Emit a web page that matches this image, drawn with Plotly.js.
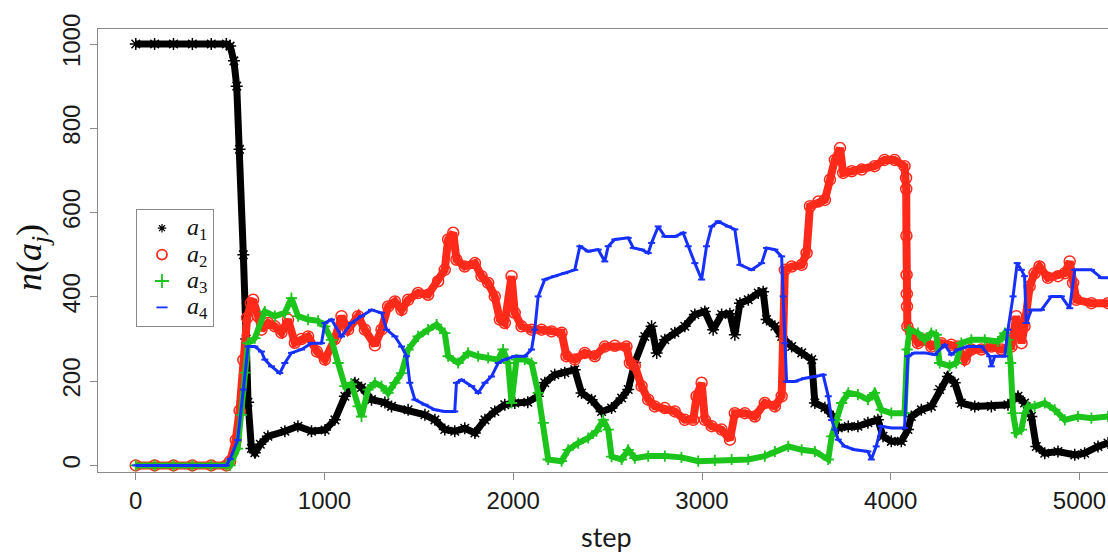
<!DOCTYPE html>
<html>
<head>
<meta charset="utf-8">
<script src="https://cdn.plot.ly/plotly-3.0.1.min.js"></script>
<style>html,body{margin:0;padding:0;background:#fff;}#chart{width:1108px;height:554px;}</style>
</head>
<body>
<div id="chart"></div>
<script>
// ---- data ----
const seriesNames = ['a1', 'a2', 'a3', 'a4'];
const legendLabels = ['<i>a</i><sub>1</sub>', '<i>a</i><sub>2</sub>', '<i>a</i><sub>3</sub>', '<i>a</i><sub>4</sub>'];
const xTicks = [0, 1000, 2000, 3000, 4000, 5000];
const yTicks = [0, 200, 400, 600, 800, 1000];

const stepA1 = [0,100,200,300,400,480,500,520,535,550,570,585,595,613,631,660,700,790,859,931,1003,1055,1108,1161,1196,1249,1320,1355,1443,1532,1585,1637,1690,1743,1797,1850,1902,1955,2008,2077,2130,2167,2220,2273,2326,2362,2415,2468,2521,2574,2609,2644,2697,2733,2760,2803,2856,2909,2962,3015,3059,3104,3148,3174,3201,3245,3298,3324,3342,3386,3422,3475,3528,3581,3598,3651,3695,3722,3775,3826,3879,3932,3959,4003,4056,4091,4109,4162,4215,4259,4303,4339,4374,4445,4533,4621,4674,4709,4745,4771,4816,4886,4975,5027,5098,5151];
const nA1 = [1000,1000,1000,1000,1000,1000,995,960,900,750,500,300,150,40,30,50,69,81,93,81,84,108,164,196,185,156,149,140,132,120,108,85,81,88,77,108,128,144,148,150,164,196,215,220,227,172,156,128,136,160,180,244,306,330,267,298,315,330,358,365,322,358,360,310,385,393,409,412,346,330,306,282,267,251,148,137,116,89,92,93,101,108,69,57,57,85,116,132,140,180,211,196,148,140,140,144,164,148,116,45,29,33,25,29,45,53];

const stepA2 = [0,100,200,300,400,480,500,530,550,570,590,610,622,648,666,701,737,772,807,843,878,913,960,1002,1055,1090,1125,1178,1214,1267,1302,1337,1373,1408,1443,1496,1549,1602,1637,1655,1682,1699,1743,1797,1832,1867,1902,1929,1955,1991,2008,2044,2097,2150,2203,2256,2282,2326,2379,2432,2485,2538,2600,2618,2644,2680,2715,2750,2803,2856,2909,2954,2971,2998,3015,3051,3104,3148,3174,3227,3280,3333,3386,3422,3439,3475,3528,3554,3572,3616,3651,3678,3704,3731,3748,3793,3846,3914,3967,4020,4073,4081,4082,4083,4084,4085,4086,4088,4109,4144,4180,4215,4268,4321,4356,4392,4427,4480,4533,4586,4639,4665,4693,4709,4736,4762,4788,4833,4886,4922,4948,4966,4983,5063,5151];
const nA2 = [0,0,0,0,0,0,10,60,130,250,350,385,393,354,322,338,330,315,346,291,300,306,270,251,300,354,322,354,322,285,322,377,389,369,393,409,405,437,464,536,552,488,472,480,449,433,401,346,338,449,362,330,322,322,318,315,259,251,267,259,282,284,282,243,236,188,156,140,136,128,108,108,164,196,108,93,85,61,124,124,116,148,140,164,464,472,476,504,615,626,630,678,725,753,694,698,702,710,725,725,710,682,656,545,452,407,377,330,314,290,298,282,290,286,282,251,275,275,282,275,282,354,290,330,425,456,472,445,449,456,484,433,393,385,385];

const stepA3 = [0,100,200,300,400,480,500,540,560,580,595,631,684,737,790,825,860,913,966,1002,1037,1072,1108,1143,1178,1196,1231,1267,1302,1337,1373,1408,1443,1496,1549,1594,1637,1655,1708,1761,1814,1867,1920,1946,1973,1991,2017,2061,2097,2132,2159,2185,2256,2291,2344,2397,2441,2477,2503,2521,2574,2609,2644,2715,2803,2891,2980,3068,3157,3245,3333,3386,3457,3528,3598,3669,3687,3713,3740,3775,3826,3879,3914,3950,4003,4073,4087,4100,4144,4180,4215,4241,4259,4312,4347,4374,4427,4498,4568,4604,4621,4635,4648,4665,4692,4709,4727,4762,4816,4869,4922,4992,5063,5151];
const nA3 = [0,0,0,0,0,0,0,40,120,220,290,302,365,354,362,397,354,346,343,330,298,243,188,193,140,116,180,196,188,172,196,219,275,306,322,334,314,259,243,267,259,255,251,275,243,148,251,251,243,172,101,14,10,37,53,65,81,108,85,21,14,37,17,22,22,19,10,12,14,14,22,33,45,37,33,14,69,108,148,172,168,156,172,132,124,124,275,322,314,298,314,310,243,236,243,290,298,298,294,314,298,243,124,77,85,124,140,140,148,132,108,116,112,116];

const stepA4 = [0,100,200,300,400,480,500,540,570,595,631,666,684,719,763,790,825,878,931,984,1002,1037,1090,1143,1196,1249,1302,1329,1373,1408,1435,1452,1479,1532,1585,1637,1690,1699,1726,1780,1814,1850,1885,1920,1955,2008,2061,2097,2114,2132,2167,2220,2273,2326,2353,2397,2450,2485,2503,2538,2609,2636,2680,2715,2733,2768,2803,2856,2900,2927,2962,2998,3024,3051,3086,3139,3174,3201,3263,3316,3342,3386,3422,3430,3439,3448,3492,3545,3598,3642,3669,3687,3704,3722,3757,3810,3879,3897,3923,3950,4003,4073,4091,4126,4180,4233,4286,4321,4356,4409,4480,4524,4533,4551,4604,4621,4648,4670,4692,4709,4718,4745,4798,4851,4904,4948,4975,5027,5063,5116,5151];
const nA4 = [0,0,0,0,0,0,15,60,180,282,282,270,251,235,219,243,267,275,290,290,338,346,306,338,354,369,362,322,306,282,259,196,156,144,132,128,128,196,203,188,172,196,211,243,251,259,259,275,322,401,441,449,456,464,520,508,512,484,520,536,540,516,512,504,528,567,543,543,552,520,480,441,520,567,579,567,560,476,464,480,516,512,496,401,290,199,199,207,211,215,164,108,85,61,45,37,33,14,45,93,89,89,259,267,267,263,286,263,275,282,282,259,235,259,259,322,401,480,464,449,338,369,369,401,401,373,464,464,464,445,445];

// ---- styling ----
const colors = ['#000000', '#ff2a1a', '#1cc41c', '#1530ff'];
const symbols = ['asterisk-open', 'circle-open', 'cross-thin-open', 'line-ew-open'];
const steps = [stepA1, stepA2, stepA3, stepA4];
const values = [nA1, nA2, nA3, nA4];
const bandWidth = [7, 8, 6, 3];
const markSize = [10, 11, 8, 5];
const markLine = [1.5, 1.5, 1.8, 2];

const traces = [];
seriesNames.forEach((nm, i) => {
  traces.push({
    type: 'scatter', mode: 'lines+markers', name: nm, showlegend: false,
    x: steps[i], y: values[i],
    line: {color: colors[i], width: bandWidth[i]},
    marker: {symbol: symbols[i], size: markSize[i], color: colors[i], line: {color: colors[i], width: markLine[i]}},
    hoverinfo: 'x+y'
  });
});
// legend entries (symbol only)
const legendSize = [7, 10, 10, 8];
seriesNames.forEach((nm, i) => {
  traces.push({
    type: 'scatter', mode: 'markers', x: [null], y: [null], showlegend: true,
    name: '<span style="font-size:24px">' + legendLabels[i] + '</span>',
    marker: {symbol: symbols[i], size: legendSize[i], color: colors[i],
             line: {color: colors[i], width: i === 0 ? 1.2 : 1.8}}
  });
});

const W = 1108, H = 554, L = 98, R = 0, T = 29, B = 82;
const pw = W - L - R, ph = H - T - B;
const px = v => (v - L) / pw;
const py = v => (H - B - v) / ph;

const layout = {
  width: W, height: H,
  margin: {l: L, r: R, t: T, b: B, pad: 0},
  paper_bgcolor: '#ffffff', plot_bgcolor: '#ffffff',
  font: {family: 'Liberation Sans, Arial, sans-serif', color: '#1a1a1a'},
  showlegend: true,
  legend: {
    x: px(136), y: py(209), xanchor: 'left', yanchor: 'top',
    bgcolor: '#ffffff', bordercolor: '#8a8a8a', borderwidth: 1,
    font: {family: 'Liberation Serif, DejaVu Serif, serif', size: 18, color: '#111'},
    itemwidth: 40, tracegroupgap: 0
  },
  xaxis: {
    range: [-200, 5151], tickvals: xTicks, ticktext: xTicks.map(String),
    ticks: 'outside', ticklen: 7, tickwidth: 1, tickcolor: '#8a8a8a',
    showline: true, linecolor: '#8a8a8a', linewidth: 1, mirror: true,
    showgrid: false, zeroline: false,
    tickfont: {size: 24, color: '#1a1a1a', family: 'Liberation Sans, Arial, sans-serif'}
  },
  yaxis: {
    range: [-15.7, 1035.6], tickvals: yTicks, ticktext: yTicks.map(String),
    ticks: 'outside', ticklen: 7, tickwidth: 1, tickcolor: '#8a8a8a',
    showline: true, linecolor: '#8a8a8a', linewidth: 1,
    showgrid: false, zeroline: false, tickangle: -90,
    tickfont: {size: 24, color: '#1a1a1a', family: 'Liberation Sans, Arial, sans-serif'}
  },
  annotations: [
    {text: 'step', xref: 'paper', yref: 'paper', x: px(606), y: py(536), xanchor: 'center', yanchor: 'middle',
     showarrow: false, font: {family: 'Lato, Open Sans, sans-serif', size: 27, color: '#1a1a1a'}},
    {text: '<i>n</i>(<i>a</i><sub><i>j</i></sub>)', xref: 'paper', yref: 'paper', x: px(31), y: py(258),
     xanchor: 'center', yanchor: 'middle', textangle: -90, showarrow: false,
     font: {family: 'Liberation Serif, DejaVu Serif, serif', size: 36, color: '#111'}}
  ]
};

Plotly.newPlot('chart', traces, layout, {staticPlot: true, displayModeBar: false});
</script>
</body>
</html>
